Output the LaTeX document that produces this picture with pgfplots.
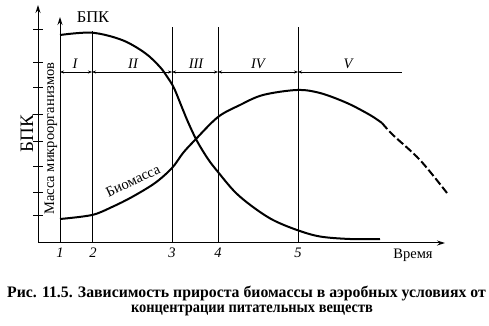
\documentclass[border=0pt]{standalone}
\usepackage{pgfplots}
\pgfplotsset{compat=1.18}
\usepackage{fontspec}
\setmainfont{Liberation Serif}
\usetikzlibrary{arrows.meta}
\begin{document}
\begin{tikzpicture}
\path[use as bounding box] (0,0) rectangle (489bp,326bp);
\begin{axis}[
  x=1bp, y=1bp, scale only axis,
  xmin=0, xmax=489, ymin=0, ymax=326,
  hide axis, clip=false,
  at={(0,0)}, anchor=south west,
]
% axes (Y = 326 - pixel row)
\draw[line width=1bp,-{Stealth[length=8bp,width=5bp]}] (axis cs:38,83) -- (axis cs:38,321);
\draw[line width=1bp,-{Stealth[length=8bp,width=5bp]}] (axis cs:38,83) -- (axis cs:445,83);
\draw[line width=1bp,-{Stealth[length=8bp,width=5bp]}] (axis cs:60,83) -- (axis cs:60,309);
% ticks on outer axis
\pgfplotsinvokeforeach{30,63,88,115,142,167,193,216}{
  \draw[line width=1bp] (axis cs:33,326-#1) -- (axis cs:43,326-#1);
}
% vertical phase lines
\draw[line width=0.8bp] (axis cs:92,83) -- (axis cs:92,295);
\draw[line width=0.8bp] (axis cs:172,83) -- (axis cs:172,299);
\draw[line width=0.8bp] (axis cs:218,83) -- (axis cs:218,299);
\draw[line width=0.8bp] (axis cs:298,83) -- (axis cs:298,299);
% phase arrows
\tikzset{pa/.style={line width=0.8bp,{Stealth[length=4bp,width=3bp]}-{Stealth[length=4bp,width=3bp]}}}
\draw[pa] (axis cs:60,254) -- (axis cs:92,254);
\draw[pa] (axis cs:92,254) -- (axis cs:172,254);
\draw[pa] (axis cs:172,254) -- (axis cs:218,254);
\draw[pa] (axis cs:218,254) -- (axis cs:298,254);
\draw[line width=0.8bp,{Stealth[length=4bp,width=3bp]}-] (axis cs:298,254) -- (axis cs:402,254);
\node[font=\fontsize{14.5bp}{14bp}\selectfont\itshape,anchor=base] at (axis cs:75,258) {I};
\node[font=\fontsize{14.5bp}{14bp}\selectfont\itshape,anchor=base] at (axis cs:133,258) {II};
\node[font=\fontsize{14.5bp}{14bp}\selectfont\itshape,anchor=base] at (axis cs:196,258) {III};
\node[font=\fontsize{14.5bp}{14bp}\selectfont\itshape,anchor=base] at (axis cs:258,258) {IV};
\node[font=\fontsize{14.5bp}{14bp}\selectfont\itshape,anchor=base] at (axis cs:348,258) {V};
% BPK curve
\addplot[black, line width=2bp, smooth, tension=0.55] coordinates {
 (60,291) (92,293.3) (122,286) (145,273) (160,259) (168,248) (174,238) (181,221)
 (188,204) (197,185) (208,167) (218,154) (235,134) (253,119) (273,106)
 (297,96) (320,89.5) (350,87) (380,87)
};
% Biomass curve (solid part)
\addplot[black, line width=2bp, smooth, tension=0.55] coordinates {
 (60,107) (92,111) (112,119) (132,129) (155,143) (172,158) (183,173)
 (195,186) (218,209) (240,221) (263,231) (297,236) (320,233) (347,223)
 (370,211) (382,203)
};
% Biomass curve (dashed part)
\addplot[black, line width=2bp, smooth, tension=0.55, dash pattern=on 8bp off 3bp] coordinates {
 (382,203) (393,191) (420,166) (447,133)
};
% texts
\node[font=\fontsize{16.5bp}{16bp}\selectfont,anchor=base] at (axis cs:93,304) {БПК};
\node[font=\fontsize{19bp}{19bp}\selectfont,rotate=90,anchor=base] at (axis cs:33,192.5) {БПК};
\node[font=\fontsize{14.5bp}{14bp}\selectfont,rotate=90,anchor=base] at (axis cs:54,187.5) {Масса микроорганизмов};
\node[font=\fontsize{14.5bp}{14bp}\selectfont,rotate=25,anchor=base] at (axis cs:135,141) {Биомасса};
\node[font=\fontsize{14.5bp}{14bp}\selectfont\itshape,anchor=base] at (axis cs:60,69) {1};
\node[font=\fontsize{14.5bp}{14bp}\selectfont\itshape,anchor=base] at (axis cs:93,69) {2};
\node[font=\fontsize{14.5bp}{14bp}\selectfont\itshape,anchor=base] at (axis cs:172,69) {3};
\node[font=\fontsize{14.5bp}{14bp}\selectfont\itshape,anchor=base] at (axis cs:218,69) {4};
\node[font=\fontsize{14.5bp}{14bp}\selectfont\itshape,anchor=base] at (axis cs:298,69) {5};
\node[font=\fontsize{14.5bp}{14bp}\selectfont,anchor=base] at (axis cs:413,68) {Время};
\node[font=\fontsize{16bp}{16bp}\selectfont\bfseries,anchor=base east,xscale=0.985,inner sep=0pt] at (axis cs:486,29) {Рис. 11.5. Зависимость прироста биомассы в аэробных условиях от};
\node[font=\fontsize{16bp}{16bp}\selectfont\bfseries,anchor=base,xscale=0.9] at (axis cs:252,14) {концентрации питательных веществ};
\end{axis}
\end{tikzpicture}
\end{document}
